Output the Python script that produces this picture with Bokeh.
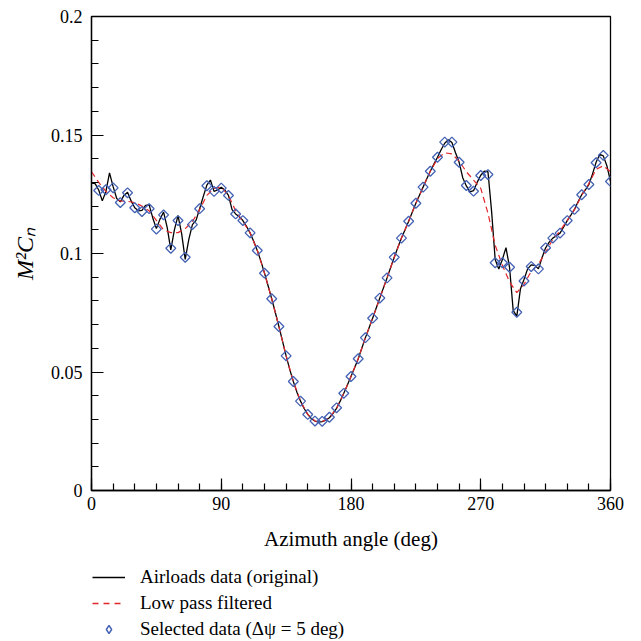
import numpy as np
from bokeh.plotting import figure
from bokeh.layouts import column
from bokeh.models import (Range1d, FixedTicker, NumeralTickFormatter, Legend, LegendItem)
from bokeh.embed import file_html
from bokeh.resources import INLINE

# ---------------- data ----------------
# Airloads data (original), azimuth every 2.5 deg
orig_psi = [i * 2.5 for i in range(145)]
orig_val = [
    0.1297, 0.1295, 0.1268, 0.1222, 0.1262, 0.1340, 0.1282, 0.1232, 0.1218, 0.1245,
    0.1258, 0.1222, 0.1193, 0.1180, 0.1182, 0.1203, 0.1205, 0.1150, 0.1105, 0.1145,
    0.1175, 0.1110, 0.1015, 0.1100, 0.1160, 0.1085, 0.0975, 0.1060, 0.1122, 0.1140,
    0.1189, 0.1240, 0.1288, 0.1310, 0.1262, 0.1268, 0.1280, 0.1268, 0.1245, 0.1185,
    0.1167, 0.1155, 0.1139, 0.1115, 0.1087, 0.1052, 0.1013, 0.0968, 0.0917, 0.0864,
    0.0809, 0.0751, 0.0692, 0.0630, 0.0568, 0.0511, 0.0460, 0.0415, 0.0377, 0.0346,
    0.0321, 0.0303, 0.0293, 0.0289, 0.0291, 0.0297, 0.0307, 0.0325, 0.0347, 0.0377,
    0.0410, 0.0445, 0.0481, 0.0518, 0.0556, 0.0600, 0.0645, 0.0686, 0.0727, 0.0770,
    0.0812, 0.0855, 0.0897, 0.0941, 0.0984, 0.1025, 0.1065, 0.1100, 0.1136, 0.1174,
    0.1212, 0.1246, 0.1280, 0.1314, 0.1347, 0.1377, 0.1406, 0.1438, 0.1465, 0.1480,
    0.1468, 0.1425, 0.1385, 0.1320, 0.1285, 0.1260, 0.1265, 0.1300, 0.1330, 0.1347,
    0.1345, 0.1180, 0.0975, 0.0935, 0.0975, 0.1025, 0.0940, 0.0760, 0.0735, 0.0850,
    0.0890, 0.0935, 0.0952, 0.0950, 0.0935, 0.0982, 0.1024, 0.1048, 0.1065, 0.1075,
    0.1086, 0.1112, 0.1139, 0.1162, 0.1186, 0.1218, 0.1248, 0.1268, 0.1291, 0.1335,
    0.1385, 0.1418, 0.1412, 0.1370, 0.1304,
]

# Low pass filtered, every 5 deg
filt_psi = [i * 5 for i in range(73)]
filt_val = [
    0.1345, 0.1300, 0.1262, 0.1235, 0.1222, 0.1220, 0.1215, 0.1200, 0.1180, 0.1140,
    0.1100, 0.1088, 0.1088, 0.1105, 0.1135, 0.1185, 0.1245, 0.1275, 0.1280, 0.1245,
    0.1180, 0.1135, 0.1087, 0.1013, 0.0917, 0.0809, 0.0692, 0.0568, 0.0460, 0.0377,
    0.0321, 0.0293, 0.0291, 0.0307, 0.0347, 0.0410, 0.0481, 0.0556, 0.0645, 0.0727,
    0.0812, 0.0897, 0.0984, 0.1065, 0.1136, 0.1212, 0.1280, 0.1347, 0.1400, 0.1425,
    0.1420, 0.1390, 0.1345, 0.1310, 0.1275, 0.1170, 0.1035, 0.0950, 0.0880, 0.0835,
    0.0870, 0.0925, 0.0955, 0.1005, 0.1060, 0.1095, 0.1140, 0.1185, 0.1245, 0.1295,
    0.1355, 0.1370, 0.1345,
]

# Selected data (delta psi = 5 deg)
sel_psi = [-6] + [i * 5 for i in range(1, 73)]
sel_val = [
    0.1304,
    0.1266, 0.1269, 0.1277, 0.1215, 0.1256, 0.1193, 0.1177, 0.1189, 0.1103, 0.1163,
    0.1022, 0.1139, 0.0984, 0.1122, 0.1189, 0.1286, 0.1262, 0.1276, 0.1245, 0.1167,
    0.1139, 0.1087, 0.1013, 0.0917, 0.0809, 0.0692, 0.0568, 0.0460, 0.0377, 0.0321,
    0.0293, 0.0292, 0.0309, 0.0349, 0.0410, 0.0481, 0.0556, 0.0645, 0.0727, 0.0812,
    0.0897, 0.0984, 0.1065, 0.1136, 0.1212, 0.1280, 0.1347, 0.1406, 0.1470, 0.1470,
    0.1385, 0.1287, 0.1263, 0.1329, 0.1333, 0.0961, 0.0961, 0.0942, 0.0752, 0.0884,
    0.0945, 0.0935, 0.1024, 0.1065, 0.1086, 0.1139, 0.1186, 0.1248, 0.1291, 0.1383,
    0.1414, 0.1304,
]

legend_labels = ["Airloads data (original)", "Low pass filtered", "Selected data (Δψ = 5 deg)"]

x_major = [0, 90, 180, 270, 360]
x_minor = list(range(0, 361, 15))
y_major = [0, 0.05, 0.1, 0.15, 0.2]
y_minor = [round(0.01 * i, 2) for i in range(21)]

BLUE = "#4462b4"
RED = "#e3262b"
FONT = "Liberation Serif"

black_style = dict(line_color="black", line_width=1.3)
red_style = dict(line_color=RED, line_width=1.2, line_dash="6 4")
dia_style = dict(marker="square", angle=np.pi / 4, size=7, fill_color=None,
                 line_color=BLUE, line_width=1.3)

p = figure(width=633, height=560, output_backend="svg", toolbar_location=None,
           x_range=Range1d(0, 360), y_range=Range1d(0, 0.2),
           min_border_left=91, min_border_right=23, min_border_top=16, min_border_bottom=70)
p.background_fill_color = "white"
p.border_fill_color = "white"
p.outline_line_color = "black"
p.outline_line_width = 1.3
p.grid.visible = False

p.line(orig_psi, orig_val, **black_style)
p.line(filt_psi, filt_val, **red_style)
p.scatter(sel_psi, sel_val, **dia_style)

for ax in (p.xaxis[0], p.yaxis[0]):
    ax.axis_line_color = "black"
    ax.axis_line_width = 1.3
    ax.major_tick_line_color = "black"
    ax.minor_tick_line_color = "black"
    ax.major_tick_line_width = 1.2
    ax.minor_tick_line_width = 1.2
    ax.major_tick_in = 12
    ax.major_tick_out = 0
    ax.minor_tick_in = 7
    ax.minor_tick_out = 0
    ax.major_label_text_font = FONT
    ax.major_label_text_font_size = "18px"
    ax.major_label_text_color = "black"
    ax.axis_label_text_font = FONT
    ax.axis_label_text_color = "black"

p.xaxis.ticker = FixedTicker(ticks=x_major, minor_ticks=x_minor)
p.yaxis.ticker = FixedTicker(ticks=y_major, minor_ticks=y_minor)
p.yaxis.formatter = NumeralTickFormatter(format="0.[00]")
p.xaxis.major_label_standoff = 6
p.yaxis.major_label_standoff = 9
p.xaxis.axis_label = "Azimuth angle (deg)"
p.xaxis.axis_label_text_font_style = "normal"
p.xaxis.axis_label_text_font_size = "21px"
p.xaxis.axis_label_standoff = 14
p.yaxis.axis_label = "M²Cₙ"
p.yaxis.axis_label_text_font_style = "italic"
p.yaxis.axis_label_text_font_size = "24px"
p.yaxis.axis_label_standoff = 10

# ---- legend strip below the plot ----
p2 = figure(width=633, height=81, output_backend="svg", toolbar_location=None,
            x_range=Range1d(0, 1), y_range=Range1d(0, 1),
            x_axis_type=None, y_axis_type=None,
            min_border_left=91, min_border_right=23, min_border_top=0, min_border_bottom=0)
p2.outline_line_color = None
p2.grid.visible = False
p2.background_fill_color = "white"
p2.border_fill_color = "white"
# legend-only renderers (no visible data)
e1 = p2.line([np.nan], [np.nan], line_color="black", line_width=1.3)
e2 = p2.line([np.nan], [np.nan], line_color=RED, line_width=1.5, line_dash="6 5")
e3 = p2.scatter([np.nan], [np.nan], marker="diamond", size=9, fill_color=None,
                line_color=BLUE, line_width=1.4)

legend = Legend(items=[
    LegendItem(label=legend_labels[0], renderers=[e1]),
    LegendItem(label=legend_labels[1], renderers=[e2]),
    LegendItem(label=legend_labels[2], renderers=[e3]),
], location=(1, 1), orientation="vertical")
legend.border_line_color = None
legend.background_fill_alpha = 0
legend.padding = 0
legend.margin = 0
legend.spacing = 4
legend.glyph_width = 33
legend.glyph_height = 20
legend.label_height = 20
legend.label_standoff = 15
legend.label_text_font = FONT
legend.label_text_font_size = "19px"
legend.label_text_color = "black"
p2.add_layout(legend, "center")

open("out.html", "w").write(file_html(column(p, p2), INLINE))
